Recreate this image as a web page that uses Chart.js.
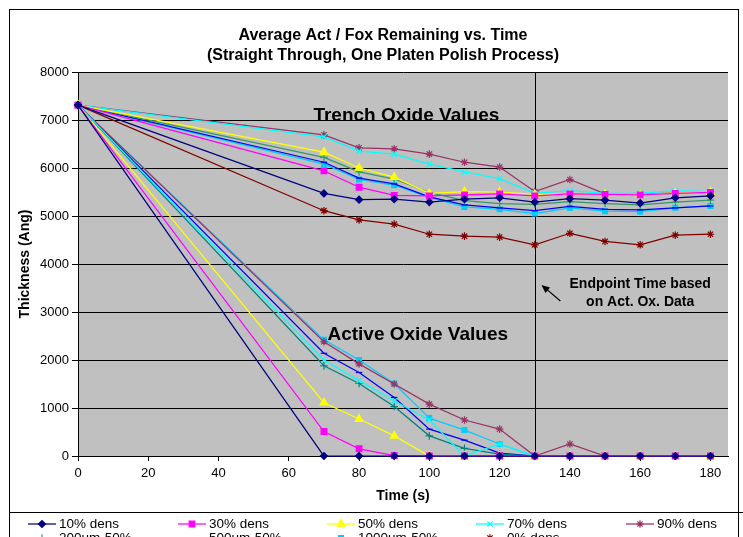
<!DOCTYPE html>
<html lang="en">
<head>
<meta charset="UTF-8">
<title>Average Act / Fox Remaining vs. Time</title>
<script src="https://cdn.jsdelivr.net/npm/chart.js"></script>
<style>
    html, body { margin: 0; padding: 0; background: #fff; }
    #wrap { width: 743px; height: 537px; }
</style>
</head>
<body>
<div id="wrap"><canvas id="chart" width="743" height="537"></canvas></div>
<script>
// polish time (s) at which every wafer was measured
const times = [0, 70, 80, 90, 100, 110, 120, 130, 140, 150, 160, 170, 180];
const xTickValues = [0, 20, 40, 60, 80, 100, 120, 140, 160, 180];
const yTickValues = [0, 1000, 2000, 3000, 4000, 5000, 6000, 7000, 8000];
const endpointTime = 130;

const seriesNames = ['10% dens', '30% dens', '50% dens', '70% dens', '90% dens',
                     '200um-50%', '500um-50%', '1000um-50%', '0% dens'];

// trench (field) oxide remaining, Ang
const trench10   = [7310, 5470, 5340, 5350, 5290, 5350, 5380, 5290, 5360, 5330, 5270, 5380, 5420];
const trench30   = [7310, 5940, 5600, 5430, 5420, 5440, 5460, 5420, 5460, 5450, 5440, 5470, 5490];
const trench50   = [7310, 6330, 6000, 5810, 5470, 5510, 5500, 5450, 5450, 5450, 5440, 5480, 5500];
const trench70   = [7310, 6650, 6350, 6290, 6080, 5920, 5780, 5470, 5530, 5470, 5470, 5530, 5510];
const trench90   = [7310, 6690, 6420, 6400, 6290, 6120, 6020, 5510, 5760, 5460, 5450, 5480, 5500];
const trench200  = [7310, 6220, 5920, 5770, 5490, 5320, 5260, 5240, 5300, 5260, 5230, 5290, 5330];
const trench500  = [7310, 6120, 5790, 5670, 5400, 5230, 5170, 5110, 5200, 5140, 5130, 5170, 5210];
const trench1000 = [7310, 6080, 5760, 5640, 5390, 5190, 5140, 5050, 5170, 5100, 5090, 5170, 5210];
const trench0    = [7310, 5110, 4920, 4830, 4620, 4580, 4560, 4400, 4640, 4470, 4400, 4600, 4620];

// active oxide remaining, Ang (0% dens has no active area)
const active10   = [7310, 0, 0, 0, 0, 0, 0, 0, 0, 0, 0, 0, 0];
const active30   = [7310, 510, 150, 10, 0, 0, 0, 0, 0, 0, 0, 0, 0];
const active50   = [7310, 1110, 770, 420, 0, 0, 0, 0, 0, 0, 0, 0, 0];
const active70   = [7310, 2000, 1570, 1150, 750, 0, 250, 0, 0, 0, 0, 0, 0];
const active90   = [7310, 2380, 1920, 1500, 1080, 750, 560, 0, 250, 0, 0, 0, 0];
const active200  = [7310, 1880, 1510, 1030, 420, 160, 40, 0, 0, 0, 0, 0, 0];
const active500  = [7310, 2140, 1740, 1220, 560, 330, 60, 0, 0, 0, 0, 0, 0];
const active1000 = [7310, 2420, 2000, 1510, 790, 540, 250, 0, 0, 0, 0, 0, 0];

const trench = [trench10, trench30, trench50, trench70, trench90, trench200, trench500, trench1000, trench0];
const active = [active10, active30, active50, active70, active90, active200, active500, active1000, null];

const FONT = 'Arial, "Liberation Sans", Helvetica, sans-serif';

// excel-ish line colours and markers
const styles = [
    { color: '#000080', marker: 'rectRot', r: 3.5 },
    { color: '#FF00FF', marker: 'rect', r: 4 },
    { color: '#FFFF00', marker: 'triangle', r: 4.5 },
    { color: '#00FFFF', marker: 'crossRot', r: 3.8 },
    { color: '#993366', marker: 'star', r: 3.8 },
    { color: '#339966', activeColor: '#008080', marker: 'cross', r: 3.8 },
    { color: '#0000FF', marker: 'line', r: 3.2 },
    { color: '#00CCFF', marker: 'rect', r: 3.4 },
    { color: '#800000', marker: 'star', r: 3.8 }
];

function makeSet(label, values, color, st) {
    return {
        label: label,
        data: values.map((v, k) => ({ x: times[k], y: v })),
        borderColor: color,
        backgroundColor: color,
        borderWidth: 1.25,
        pointStyle: st.marker,
        pointRadius: st.r,
        pointHoverRadius: st.r,
        pointBorderWidth: 1.2,
        pointBackgroundColor: color,
        pointBorderColor: color,
        tension: 0,
        clip: false
    };
}

const datasets = [];
seriesNames.forEach((name, i) => {
    const st = styles[i];
    datasets.push(makeSet(name, trench[i], st.color, st));
    if (active[i]) datasets.push(makeSet(name + ' active', active[i], st.activeColor || st.color, st));
});

// text placed in data coordinates
const notes = [
    { text: 'Trench Oxide Values', x: 67, y: 6980, size: 19, align: 'left', base: 'alphabetic' },
    { text: 'Active Oxide Values', x: 71, y: 2420, size: 19, align: 'left', base: 'alphabetic' },
    { text: 'Endpoint Time based', x: 160, y: 3583, size: 14, align: 'center', base: 'middle' },
    { text: 'on Act. Ox. Data', x: 160, y: 3208, size: 14, align: 'center', base: 'middle' }
];
const arrowFrom = { x: 137.3, y: 3230 };
const arrowTo = { x: 131.9, y: 3565 };

const legendCols = [28, 178, 327, 476, 626];
const legendRows = [524, 538];

function drawMarker(ctx, st, color, x, y) {
    ctx.fillStyle = color;
    ctx.strokeStyle = color;
    ctx.lineWidth = 1.2;
    Chart.helpers.drawPoint(ctx, { pointStyle: st.marker, radius: st.r, borderWidth: 1.2, rotation: 0 }, x, y);
}

const excelLook = {
    id: 'excelLook',
    beforeDraw(chart) {
        const { ctx, chartArea: a } = chart;
        ctx.save();
        ctx.fillStyle = '#fff';
        ctx.fillRect(0, 0, chart.width, chart.height);
        ctx.fillStyle = '#C0C0C0';
        ctx.fillRect(a.left, a.top, a.right - a.left, a.bottom - a.top);
        ctx.restore();
    },
    beforeDatasetsDraw(chart) {
        const { ctx, chartArea: a, scales } = chart;
        const x = Math.round(scales.x.getPixelForValue(endpointTime)) + 0.5;
        ctx.save();
        ctx.strokeStyle = '#000';
        ctx.lineWidth = 1;
        ctx.beginPath();
        ctx.moveTo(x, a.top);
        ctx.lineTo(x, a.bottom);
        ctx.stroke();
        ctx.restore();
    },
    afterDraw(chart) {
        const { ctx, scales } = chart;
        const sx = scales.x, sy = scales.y;
        ctx.save();

        // chart title
        ctx.fillStyle = '#000';
        ctx.textAlign = 'center';
        ctx.textBaseline = 'middle';
        ctx.font = 'bold 16px ' + FONT;
        ctx.fillText('Average Act / Fox Remaining vs. Time', 383, 36);
        ctx.fillText('(Straight Through, One Platen Polish Process)', 383, 56);

        // notes
        notes.forEach(n => {
            ctx.font = 'bold ' + n.size + 'px ' + FONT;
            ctx.textAlign = n.align;
            ctx.textBaseline = n.base;
            ctx.fillText(n.text, sx.getPixelForValue(n.x), sy.getPixelForValue(n.y));
        });

        // arrow
        const x1 = sx.getPixelForValue(arrowFrom.x), y1 = sy.getPixelForValue(arrowFrom.y);
        const x2 = sx.getPixelForValue(arrowTo.x), y2 = sy.getPixelForValue(arrowTo.y);
        const ang = Math.atan2(y2 - y1, x2 - x1);
        ctx.strokeStyle = '#000';
        ctx.lineWidth = 1.2;
        ctx.beginPath();
        ctx.moveTo(x1, y1);
        ctx.lineTo(x2 - 5 * Math.cos(ang), y2 - 5 * Math.sin(ang));
        ctx.stroke();
        ctx.beginPath();
        ctx.moveTo(x2, y2);
        ctx.lineTo(x2 - 9 * Math.cos(ang - 0.4), y2 - 9 * Math.sin(ang - 0.4));
        ctx.lineTo(x2 - 9 * Math.cos(ang + 0.4), y2 - 9 * Math.sin(ang + 0.4));
        ctx.closePath();
        ctx.fill();

        // outer frame + legend box
        ctx.lineWidth = 1;
        ctx.strokeRect(9.5, 9.5, 729, 540);
        ctx.beginPath();
        ctx.moveTo(9.5, 512.5);
        ctx.lineTo(743, 512.5);
        ctx.stroke();

        // legend
        ctx.font = '13.5px ' + FONT;
        ctx.textAlign = 'left';
        ctx.textBaseline = 'middle';
        seriesNames.forEach((name, i) => {
            const col = legendCols[i % 5];
            const y = legendRows[Math.floor(i / 5)];
            const st = styles[i];
            ctx.strokeStyle = st.color;
            ctx.lineWidth = 1.25;
            ctx.beginPath();
            ctx.moveTo(col, y);
            ctx.lineTo(col + 28, y);
            ctx.stroke();
            drawMarker(ctx, st, st.color, col + 14, y);
            ctx.fillStyle = '#000';
            ctx.fillText(name, col + 31, y);
        });
        ctx.restore();
    }
};

new Chart(document.getElementById('chart'), {
    type: 'line',
    data: { datasets: datasets },
    options: {
        responsive: false,
        animation: false,
        devicePixelRatio: 1,
        layout: { padding: { left: 10, right: 15, top: 72, bottom: 0 } },
        plugins: {
            legend: { display: false },
            title: { display: false },
            tooltip: { enabled: false }
        },
        scales: {
            x: {
                type: 'linear',
                min: 0,
                max: 185,
                afterBuildTicks: s => { s.ticks = xTickValues.map(v => ({ value: v })); },
                afterFit: s => { s.height = 81; },
                grid: { drawOnChartArea: false, color: '#000', tickLength: 5 },
                border: { color: '#000', width: 1 },
                ticks: {
                    color: '#000', padding: 5, maxRotation: 0, autoSkip: false,
                    font: { family: FONT, size: 13 },
                    callback: v => String(v)
                },
                title: {
                    display: true, text: 'Time (s)', color: '#000',
                    font: { family: FONT, size: 14, weight: 'bold' },
                    padding: { top: 0, bottom: 32 }
                }
            },
            y: {
                min: 0,
                max: 8000,
                afterBuildTicks: s => { s.ticks = yTickValues.map(v => ({ value: v })); },
                afterFit: s => { s.width = 68; },
                grid: { color: '#000', tickLength: 6 },
                border: { color: '#000', width: 1 },
                ticks: {
                    color: '#000', padding: 3,
                    font: { family: FONT, size: 13 },
                    callback: v => String(v)
                },
                title: {
                    display: true, text: 'Thickness (Ang)', color: '#000',
                    font: { family: FONT, size: 14, weight: 'bold' },
                    padding: { top: 7, bottom: 0 }
                }
            }
        }
    },
    plugins: [excelLook]
});
</script>
</body>
</html>
